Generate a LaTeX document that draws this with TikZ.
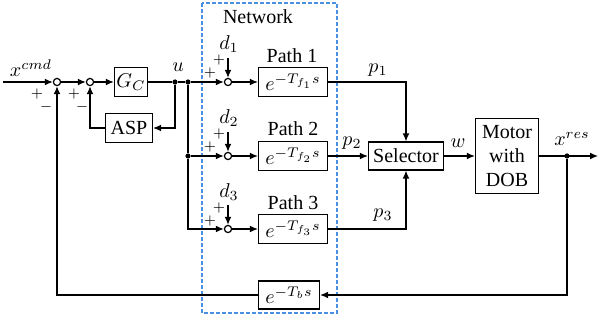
\documentclass[tikz,border=0pt]{standalone}
\usepackage{fontspec}
\setmainfont{Liberation Serif}
\usetikzlibrary{arrows.meta}
\definecolor{netblue}{RGB}{74,144,226}
\tikzset{
  >={Latex[length=4pt,width=3.4pt]},
  blk/.style={draw, inner sep=1pt, minimum height=14.5pt},
  sumnode/.style={draw, circle, fill=white, inner sep=0pt, minimum size=3.6pt},
  junc/.style={circle, fill, inner sep=0pt, minimum size=2.6pt},
  sgn/.style={inner sep=0pt, font=\scriptsize},
}
\begin{document}
\begin{tikzpicture}[x=0.5pt, y=-0.5pt, line width=0.6pt]
	\useasboundingbox (0,0) rectangle (600,320);
	% network part
	\draw[netblue, dash pattern=on 2pt off 1pt] (202,3) rectangle (337,313);
	\node (net) at (258,17) {Network};

	% controller side
	\coordinate (in) at (3,82);
	\node[sumnode] (s1) at (57,82) {};
	\node[sumnode] (s2) at (90,82) {};
	\node[blk, minimum width=14pt] (gc) at (131,82) {$G_C$};
	\node[junc] (ju) at (175,82) {};
	\node[junc] (jb) at (188,82) {};
	\node[junc] (jm) at (188,156) {};
	\node[blk, minimum width=23.5pt] (asp) at (129,128) {ASP};

	% three paths
	\node[sumnode] (n1) at (228,82) {};
	\node[sumnode] (n2) at (228,156) {};
	\node[sumnode] (n3) at (228,229) {};
	\coordinate (d1) at (228,58);
	\coordinate (d2) at (228,132);
	\coordinate (d3) at (228,205);
	\node[blk, minimum width=34.5pt] (path1) at (293,82) {$e^{-T_{f_1}s}$};
	\node[blk, minimum width=34.5pt] (path2) at (293,156) {$e^{-T_{f_2}s}$};
	\node[blk, minimum width=34.5pt] (path3) at (293,229) {$e^{-T_{f_3}s}$};
	\node[blk, minimum width=30.5pt, minimum height=14pt] (fbk) at (289,295) {$e^{-T_bs}$};

	% plant side
	\node[blk, minimum width=37.5pt, minimum height=14pt] (sel) at (406,156) {Selector};
	\node[blk, minimum width=31.5pt, minimum height=37.5pt, align=center,
		font=\fontsize{10}{12}\selectfont] (motor) at (507,156) {Motor\\with\\DOB};
	\node[junc] (jo) at (567,156) {};
	\coordinate (out) at (598,156);

	% connectors
	\draw[->] (in) -- (s1);
	\draw[->] (s1) -- (s2);
	\draw[->] (s2) -- (gc);
	\draw (gc) -- (ju);
	\draw (ju) -- (jb);
	\draw[->] (ju) |- (asp);
	\draw[->] (asp) -| (s2);
	\draw[->] (jb) -- (n1);
	\draw (jb) -- (jm);
	\draw[->] (jm) -- (n2);
	\draw[->] (jm) |- (n3);
	\draw[->] (d1) -- (n1);
	\draw[->] (d2) -- (n2);
	\draw[->] (d3) -- (n3);
	\draw[->] (n1) -- (path1);
	\draw[->] (n2) -- (path2);
	\draw[->] (n3) -- (path3);
	\draw[->] (path1) -| (sel);
	\draw[->] (path2) -- (sel);
	\draw[->] (path3) -| (sel);
	\draw[->] (sel) -- (motor);
	\draw[->] (motor) -- (out);
	\draw[->] (jo) |- (fbk);
	\draw[->] (fbk) -| (s1);

	% signal labels
	\node at (31,68) {$x^{cmd}$};
	\node at (178,67) {$u$};
	\node at (229,44) {$d_1$};
	\node at (229,118) {$d_2$};
	\node at (229,192) {$d_3$};
	\node at (292,56) {Path 1};
	\node at (293,129) {Path 2};
	\node at (293,203) {Path 3};
	\node at (378,70) {$p_1$};
	\node at (352,143) {$p_2$};
	\node at (383,215) {$p_3$};
	\node at (458,143) {$w$};
	\node at (572,139) {$x^{res}$};

	% signs at the summing points
	\node[sgn] at (37,94) {$+$};
	\node[sgn] at (46,107) {$-$};
	\node[sgn] at (74,94) {$+$};
	\node[sgn] at (82,107) {$-$};
	\node[sgn] at (219,60) {$+$};
	\node[sgn] at (210,73) {$+$};
	\node[sgn] at (219,134) {$+$};
	\node[sgn] at (210,147) {$+$};
	\node[sgn] at (219,208) {$+$};
	\node[sgn] at (210,221) {$+$};
\end{tikzpicture}
\end{document}
